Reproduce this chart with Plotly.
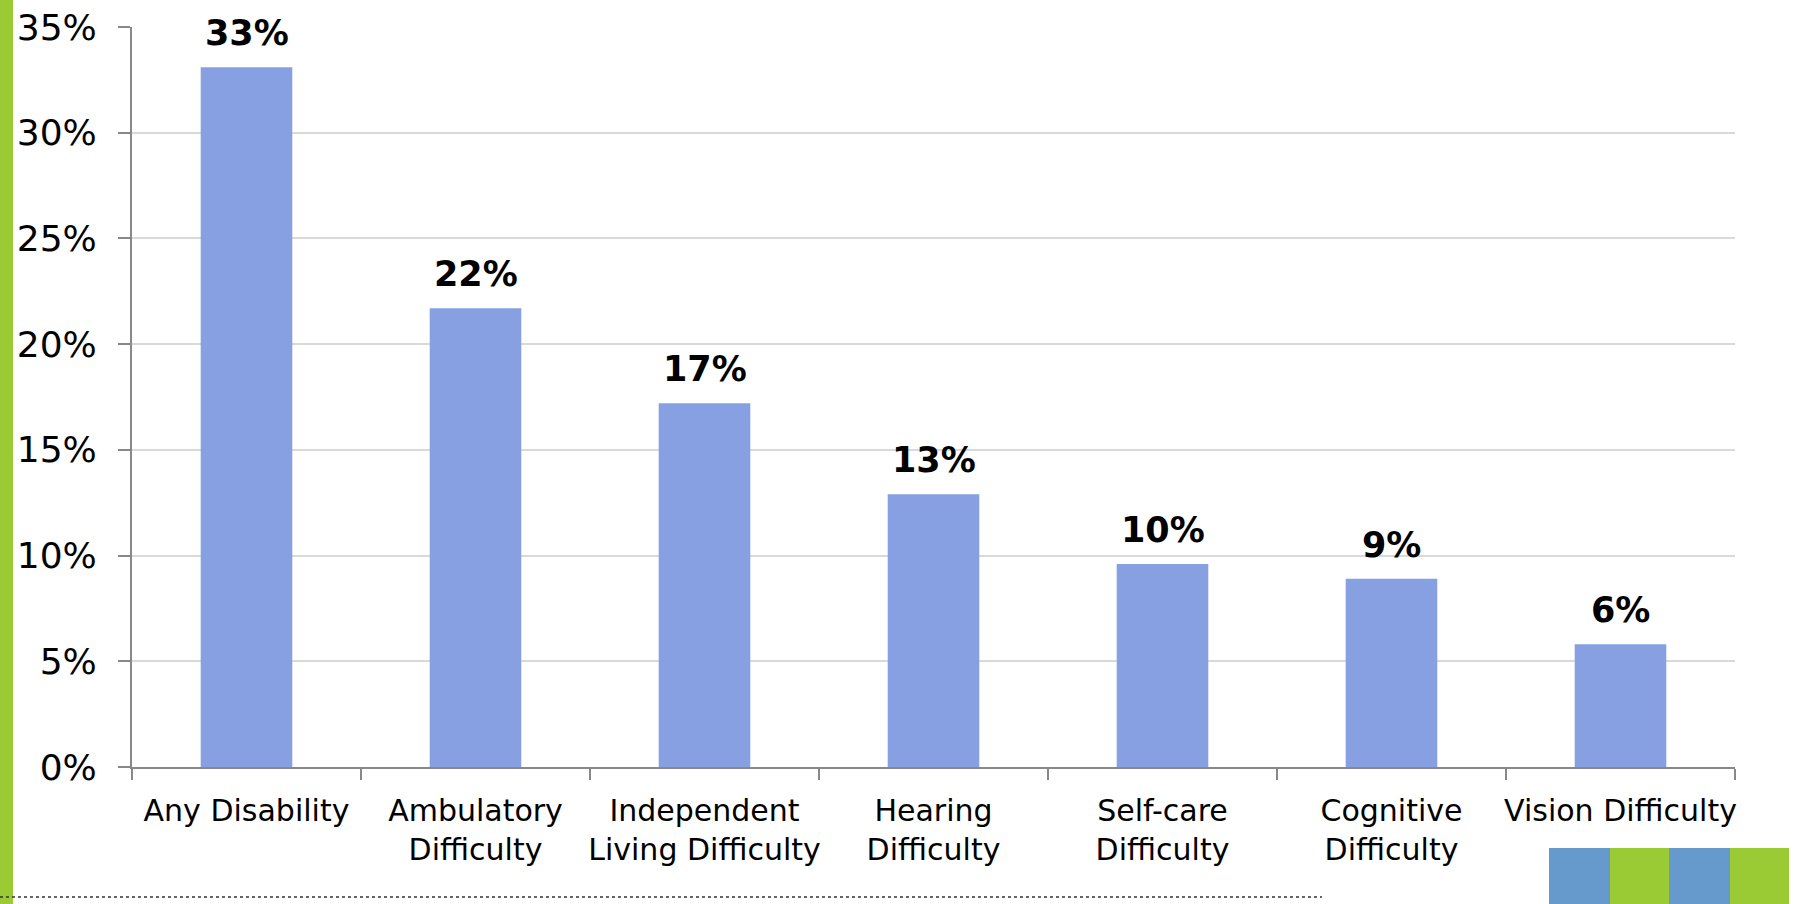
import plotly.graph_objects as go

categories = ["Any Disability", "Ambulatory<br>Difficulty", "Independent<br>Living Difficulty",
              "Hearing<br>Difficulty", "Self-care<br>Difficulty", "Cognitive<br>Difficulty",
              "Vision Difficulty"]
values = [33.1, 21.7, 17.2, 12.9, 9.6, 8.9, 5.8]
value_labels = ["33%", "22%", "17%", "13%", "10%", "9%", "6%"]
y_ticks = [0, 5, 10, 15, 20, 25, 30, 35]
y_tick_labels = ["0%", "5%", "10%", "15%", "20%", "25%", "30%", "35%"]

W, H = 1798, 904
L, R, T, B = 132, 63, 27, 137
pw, ph = W - L - R, H - T - B

def px(x):
    return (x - L) / pw

def py(y):
    return (H - B - y) / ph

FONT = "DejaVu Sans"
BAR = "#86A0E2"
GREEN = "#9ACA34"
BLUE = "#6699CC"

fig = go.Figure(go.Bar(x=categories, y=values, marker=dict(color=BAR, line=dict(width=0)),
                       hoverinfo="skip"))

for c, v, t in zip(categories, values, value_labels):
    fig.add_annotation(x=c, y=v, text="<b>" + t + "</b>", showarrow=False, yanchor="bottom",
                       yshift=12, font=dict(family=FONT, size=35, color="black"))

shapes = [
    dict(type="rect", xref="paper", yref="paper", x0=px(0), x1=px(13), y0=py(H), y1=py(0),
         fillcolor=GREEN, line=dict(width=0), layer="above"),
    dict(type="line", xref="paper", yref="paper", x0=px(0), x1=px(1322), y0=py(897), y1=py(897),
         line=dict(color="#333333", width=1.5, dash="dot")),
]
sq = [(1549, 1610, BLUE), (1610, 1669, GREEN), (1669, 1730, BLUE), (1730, 1789, GREEN)]
for x0, x1, col in sq:
    shapes.append(dict(type="rect", xref="paper", yref="paper", x0=px(x0), x1=px(x1),
                       y0=py(H), y1=py(848), fillcolor=col, line=dict(width=0)))

fig.update_layout(
    width=W, height=H,
    margin=dict(l=L, r=R, t=T, b=B, autoexpand=False),
    paper_bgcolor="white", plot_bgcolor="white",
    bargap=0.6,
    showlegend=False,
    shapes=shapes,
    font=dict(family=FONT, color="black"),
    xaxis=dict(showline=True, linecolor="#888888", linewidth=2, ticks="outside",
               tickson="boundaries", ticklen=11, tickcolor="#888888", tickwidth=2,
               tickangle=0, automargin=False, ticklabelstandoff=16,
               tickfont=dict(family=FONT, size=30, color="black"), showgrid=False),
    yaxis=dict(range=[0, 35], tickvals=y_ticks, ticktext=y_tick_labels, showline=True,
               linecolor="#888888", linewidth=2, ticks="outside", ticklen=12,
               tickcolor="#888888", tickwidth=2, gridcolor="#D9D9D9", gridwidth=1.5,
               zeroline=False, automargin=False,
               tickfont=dict(family=FONT, size=36, color="black"),
               ticklabelstandoff=14),
)

fig.write_html("out.html", config={"displayModeBar": False},
               post_script="document.body.style.margin='0';document.body.style.overflow='hidden';")
